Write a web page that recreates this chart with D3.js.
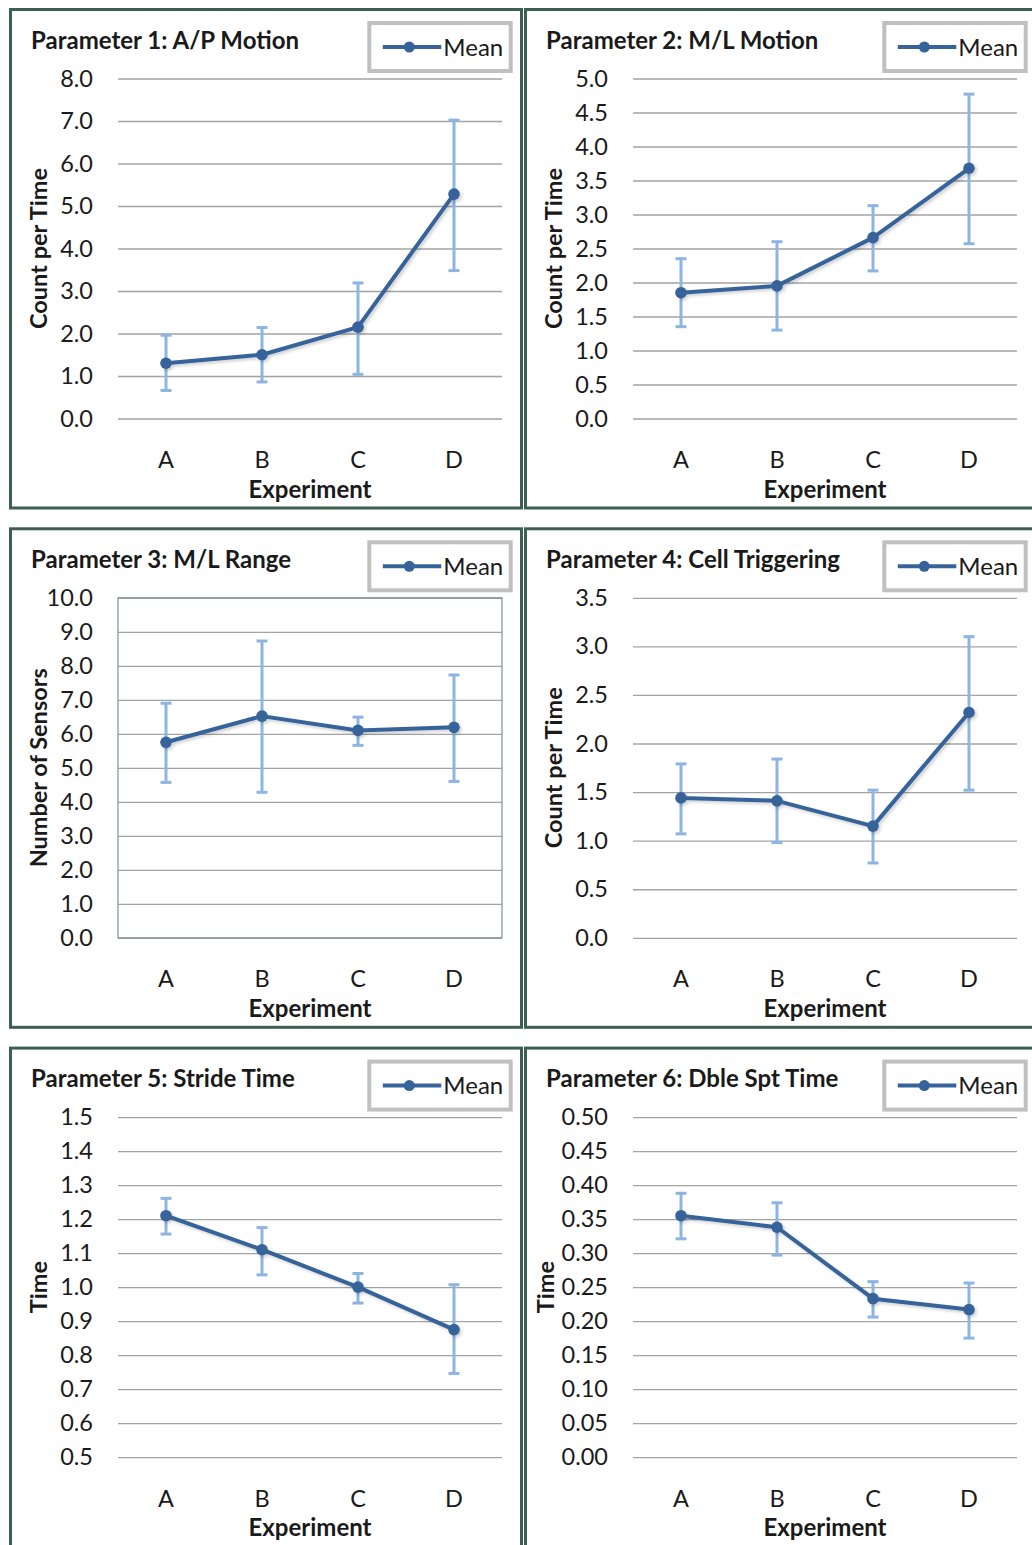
<!DOCTYPE html>
<html lang="en">
<head>
    <meta charset="utf-8" />
    <title>Parameter charts</title>
    <script src="https://d3js.org/d3.v7.min.js"></script>
    <style>
        body { margin: 0; background: white; }
        svg { display: block; background: white; }
        text { font-family: 'Lato', 'Open Sans', sans-serif; fill: #1a1a1a; }
    </style>
</head>
<body>
    <script>

        // Categories on the x axis
        const experiments = ["A", "B", "C", "D"];

        const panelTitles = [
            "Parameter 1: A/P Motion",
            "Parameter 2: M/L Motion",
            "Parameter 3: M/L Range",
            "Parameter 4: Cell Triggering",
            "Parameter 5: Stride Time",
            "Parameter 6: Dble Spt Time"
        ];
        const yTitles = ["Count per Time", "Count per Time", "Number of Sensors",
            "Count per Time", "Time", "Time"];

        // Mean values per parameter (A, B, C, D)
        const meanValues = [
            [1.30, 1.50, 2.15, 5.28],
            [1.85, 1.95, 2.66, 3.68],
            [5.75, 6.52, 6.10, 6.19],
            [1.44, 1.41, 1.15, 2.32],
            [1.21, 1.11, 1.00, 0.875],
            [0.355, 0.338, 0.233, 0.217]
        ];
        // Lower and upper ends of the error bars
        const errorLow = [
            [0.66, 0.86, 1.04, 3.48],
            [1.35, 1.30, 2.17, 2.57],
            [4.57, 4.28, 5.66, 4.60],
            [1.07, 0.98, 0.77, 1.52],
            [1.156, 1.036, 0.953, 0.746],
            [0.321, 0.297, 0.206, 0.175]
        ];
        const errorHigh = [
            [1.96, 2.14, 3.19, 7.02],
            [2.35, 2.60, 3.13, 4.77],
            [6.90, 8.73, 6.49, 7.73],
            [1.79, 1.84, 1.52, 3.10],
            [1.261, 1.175, 1.040, 1.007],
            [0.388, 0.374, 0.258, 0.256]
        ];

        // Y axis ranges and tick labels
        const yMin = [0, 0, 0, 0, 0.5, 0];
        const yMax = [8, 5, 10, 3.5, 1.5, 0.5];
        const yStep = [1, 0.5, 1, 0.5, 0.1, 0.05];
        const yFormat = [".1f", ".1f", ".1f", ".1f", ".1f", ".2f"];

        // Layout
        const width = 1032, height = 1545;
        const panelW = 511, panelH = 498.5;
        const colX = [10.5, 525.5];
        const rowY = [9.5, 528.8, 1048.1];
        const plot = { left: 107.5, right: 491.5, top: 69, bottom: 409 };
        const plotW = plot.right - plot.left;
        const plotH = plot.bottom - plot.top;

        const lineColor = "#36639a";
        const errColor = "#8db4e2";
        const labelSize = "23.5px";

        const svg = d3.select("body")
            .append("svg")
            .attr("width", width)
            .attr("height", height);

        const defs = svg.append("defs");
        defs.append("filter")
            .attr("id", "shadow")
            .attr("x", "-10%").attr("y", "-10%")
            .attr("width", "130%").attr("height", "130%")
            .append("feDropShadow")
            .attr("dx", 2).attr("dy", 2)
            .attr("stdDeviation", 1.8)
            .attr("flood-color", "#000")
            .attr("flood-opacity", 0.18);

        panelTitles.forEach((title, i) => {
            const col = i % 2, row = Math.floor(i / 2);
            const g = svg.append("g")
                .attr("transform", `translate(${colX[col]}, ${rowY[row]})`);

            // Panel frame
            g.append("rect")
                .attr("width", panelW)
                .attr("height", panelH)
                .attr("fill", "white")
                .attr("stroke", "#3c5f50")
                .attr("stroke-width", 3);

            // Title
            g.append("text")
                .attr("x", 20.5)
                .attr("y", 39)
                .style("font-size", "24px")
                .style("font-weight", "bold")
                .text(title);

            // Legend
            const leg = g.append("g").attr("transform", "translate(358.8, 13.5)");
            leg.append("rect")
                .attr("width", 141.4)
                .attr("height", 48)
                .attr("fill", "white")
                .attr("stroke", "#c0c0c0")
                .attr("stroke-width", 4);
            leg.append("line")
                .attr("x1", 13.5).attr("x2", 72)
                .attr("y1", 24).attr("y2", 24)
                .attr("stroke", lineColor)
                .attr("stroke-width", 4);
            leg.append("circle")
                .attr("cx", 40).attr("cy", 24).attr("r", 5.5)
                .attr("fill", lineColor);
            leg.append("text")
                .attr("x", 74)
                .attr("y", 24)
                .attr("dy", "0.36em")
                .style("font-size", "24px")
                .text("Mean");

            const pg = g.append("g")
                .attr("transform", `translate(${plot.left}, ${plot.top})`);

            const x = d3.scaleBand()
                .domain(experiments)
                .range([0, plotW]);

            const y = d3.scaleLinear()
                .domain([yMin[i], yMax[i]])
                .range([plotH, 0]);

            const ticks = d3.range(yMin[i], yMax[i] + yStep[i] / 2, yStep[i]);

            // Y axis with gridlines
            const yAxis = pg.append("g")
                .call(d3.axisLeft(y)
                    .tickValues(ticks)
                    .tickSize(-plotW)
                    .tickPadding(25)
                    .tickFormat(d3.format(yFormat[i])));
            yAxis.select(".domain").remove();
            yAxis.selectAll("line")
                .attr("stroke", "#a3a3a3")
                .attr("stroke-width", 1.3);
            yAxis.selectAll("text")
                .attr("fill", "#1a1a1a")
                .style("font-size", labelSize)
                .style("font-family", "Lato, sans-serif");

            // Parameter 3 has a plot area border
            if (i === 2) {
                pg.append("rect")
                    .attr("width", plotW)
                    .attr("height", plotH)
                    .attr("fill", "none")
                    .attr("stroke", "#87918f")
                    .attr("stroke-width", 1.2);
            }

            // X axis
            const xAxis = pg.append("g")
                .attr("transform", `translate(0, ${plotH})`)
                .call(d3.axisBottom(x).tickSize(0).tickPadding(33));
            xAxis.select(".domain").remove();
            xAxis.selectAll("text")
                .attr("fill", "#1a1a1a")
                .style("font-size", labelSize)
                .style("font-family", "Lato, sans-serif");

            // Axis titles
            pg.append("text")
                .attr("x", plotW / 2)
                .attr("y", plotH + 79)
                .attr("text-anchor", "middle")
                .style("font-size", "24px")
                .style("font-weight", "bold")
                .text("Experiment");

            const yTitleX = (i === 5 ? 20 : 28) - plot.left;
            pg.append("text")
                .attr("transform", `translate(${yTitleX}, ${plotH / 2}) rotate(-90)`)
                .attr("text-anchor", "middle")
                .attr("dy", "0.35em")
                .style("font-size", "23.5px")
                .style("font-weight", "bold")
                .text(yTitles[i]);

            const pts = experiments.map((e, k) => ({
                cat: e, mean: meanValues[i][k], lo: errorLow[i][k], hi: errorHigh[i][k]
            }));
            const cx = d => x(d.cat) + x.bandwidth() / 2;

            // Error bars
            const eb = pg.append("g")
                .attr("stroke", errColor)
                .attr("stroke-width", 3);
            eb.selectAll(".stem")
                .data(pts)
                .join("line")
                .attr("x1", cx).attr("x2", cx)
                .attr("y1", d => y(d.lo)).attr("y2", d => y(d.hi));
            eb.selectAll(".capTop")
                .data(pts)
                .join("line")
                .attr("x1", d => cx(d) - 5.5).attr("x2", d => cx(d) + 5.5)
                .attr("y1", d => y(d.hi)).attr("y2", d => y(d.hi));
            eb.selectAll(".capBottom")
                .data(pts)
                .join("line")
                .attr("x1", d => cx(d) - 5.5).attr("x2", d => cx(d) + 5.5)
                .attr("y1", d => y(d.lo)).attr("y2", d => y(d.lo));

            // Mean line and markers
            const mg = pg.append("g").attr("filter", "url(#shadow)");
            mg.append("path")
                .datum(pts)
                .attr("fill", "none")
                .attr("stroke", lineColor)
                .attr("stroke-width", 4)
                .attr("stroke-linejoin", "round")
                .attr("d", d3.line().x(cx).y(d => y(d.mean)));
            mg.selectAll("circle")
                .data(pts)
                .join("circle")
                .attr("cx", cx)
                .attr("cy", d => y(d.mean))
                .attr("r", 5.8)
                .attr("fill", lineColor);
        });

    </script>
</body>
</html>
